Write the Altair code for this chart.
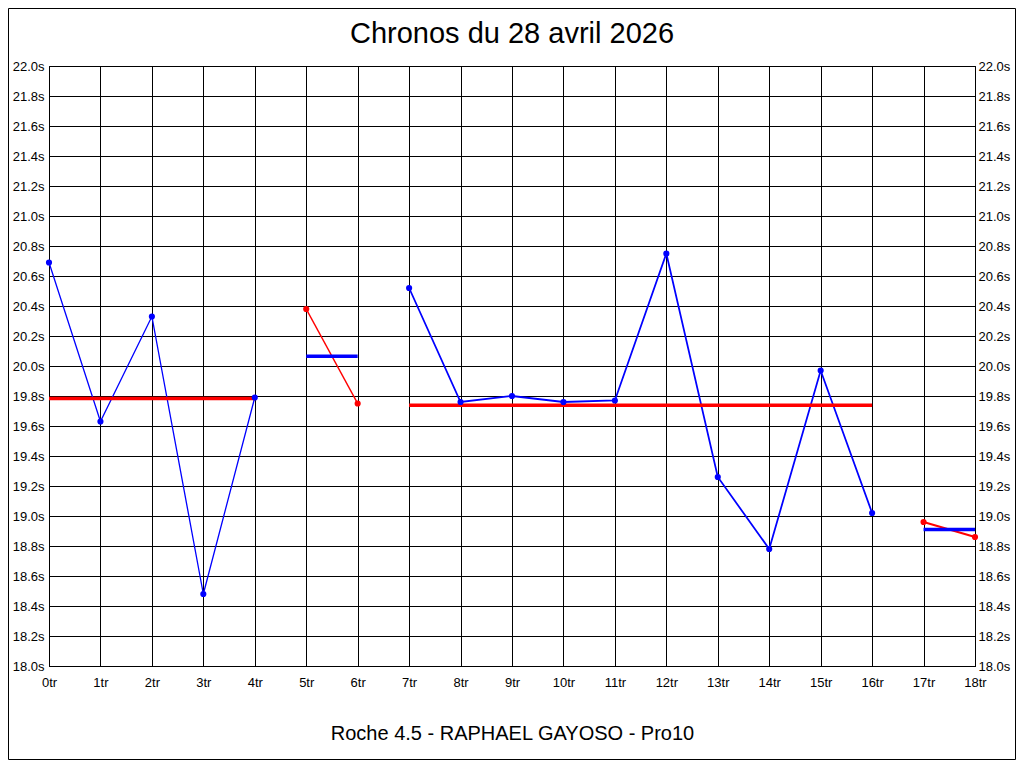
import altair as alt
import pandas as pd

# ---- data ----
laps = list(range(19))
times = [20.69, 19.63, 20.33, 18.48, 19.79,
         20.38, 19.75,
         20.52, 19.76, 19.80, 19.76, 19.77, 20.75, 19.26, 18.78, 19.97, 19.02,
         18.96, 18.86]
runs = [0, 0, 0, 0, 0,
        1, 1,
        2, 2, 2, 2, 2, 2, 2, 2, 2, 2,
        3, 3]
x_ticks = list(range(19))
y_ticks = [round(18.0 + 0.2 * i, 1) for i in range(21)]
title_text = "Chronos du 28 avril 2026"
footer_text = "Roche 4.5 - RAPHAEL GAYOSO - Pro10"

df = pd.DataFrame({"lap": laps, "time": times, "run": runs})

FONT = "Liberation Sans"
BLUE = "#0000ff"
RED = "#ff0000"

xscale = alt.Scale(domain=[0, 18], nice=False, zero=False)
yscale = alt.Scale(domain=[18, 22], nice=False, zero=False)

common_axis = dict(
    tickSize=0, ticks=False, domainColor="black", domainWidth=1,
    labelFont=FONT, labelFontSize=13, labelColor="black",
    labelFlush=False, labelOverlap=False, gridColor="black",
    gridOpacity=1, gridWidth=1,
)

x_axis = alt.Axis(
    values=x_ticks, labelExpr="datum.value + 'tr'", labelAngle=0,
    labelPadding=10, grid=True,
    title=footer_text, titleFont=FONT, titleFontSize=20,
    titleFontWeight="normal", titleColor="black",
    titleBaseline="alphabetic", titlePadding=50,
    **common_axis,
)
y_left = alt.Axis(
    values=y_ticks, labelExpr="format(datum.value, '.1f') + 's'",
    orient="left", labelPadding=5, grid=True, title=None, **common_axis,
)
y_right = alt.Axis(
    values=y_ticks, labelExpr="format(datum.value, '.1f') + 's'",
    orient="right", labelPadding=3, grid=False, title=None, **common_axis,
)

base = alt.Chart(df)

lines = base.mark_line(interpolate="linear").encode(
    x=alt.X("lap:Q", scale=xscale, axis=x_axis),
    y=alt.Y("time:Q", scale=yscale, axis=y_left),
    color=alt.Color("run:N", scale=alt.Scale(domain=[0, 1, 2, 3],
                                             range=[BLUE, RED, BLUE, RED]),
                    legend=None),
    strokeWidth=alt.StrokeWidth("run:N", scale=alt.Scale(domain=[0, 1, 2, 3],
                                                         range=[1.3, 2, 1.3, 2]),
                                legend=None),
)

avgs = base.transform_aggregate(
    mean_time="mean(time)", start="min(lap)", end="max(lap)", groupby=["run"]
).mark_rule(strokeWidth=3.5).encode(
    x=alt.X("start:Q", scale=xscale, axis=x_axis),
    x2="end:Q",
    y=alt.Y("mean_time:Q", scale=yscale, axis=y_left),
    color=alt.Color("run:N", scale=alt.Scale(domain=[0, 1, 2, 3],
                                             range=[RED, BLUE, RED, BLUE]),
                    legend=None),
)

points = base.mark_point(filled=True, shape="circle", size=38, opacity=1).encode(
    x=alt.X("lap:Q", scale=xscale, axis=x_axis),
    y=alt.Y("time:Q", scale=yscale, axis=y_left),
    color=alt.Color("run:N", scale=alt.Scale(domain=[0, 1, 2, 3],
                                             range=[BLUE, RED, BLUE, RED]),
                    legend=None),
)

one = pd.DataFrame({"k": [0]})

frame = alt.Chart(one).mark_rect(
    fill=None, stroke="black", strokeWidth=1
).encode(
    x=alt.value(-40.5), x2=alt.value(966.5),
    y=alt.value(-57.5), y2=alt.value(693.5),
)

title_mark = alt.Chart(one).mark_text(
    text=title_text, font=FONT, fontSize=29, color="black",
    align="center", baseline="alphabetic",
).encode(x=alt.value(463), y=alt.value(-23.5))

inner = alt.layer(lines, avgs, points, frame, title_mark).resolve_scale(color="independent")

right_axis = base.mark_point(opacity=0).encode(
    y=alt.Y("time:Q", scale=yscale, axis=y_right),
    x=alt.value(0),
)

chart = alt.layer(inner, right_axis).resolve_axis(y="independent").properties(
    width=926,
    height=600,
    autosize=alt.AutoSizeParams(type="none"),
    padding={"left": 41, "top": 58, "right": 41, "bottom": 94},
).configure(background="white").configure_view(stroke="black", strokeWidth=1)

chart.save("out.html", embed_options={"renderer": "svg", "actions": False})
